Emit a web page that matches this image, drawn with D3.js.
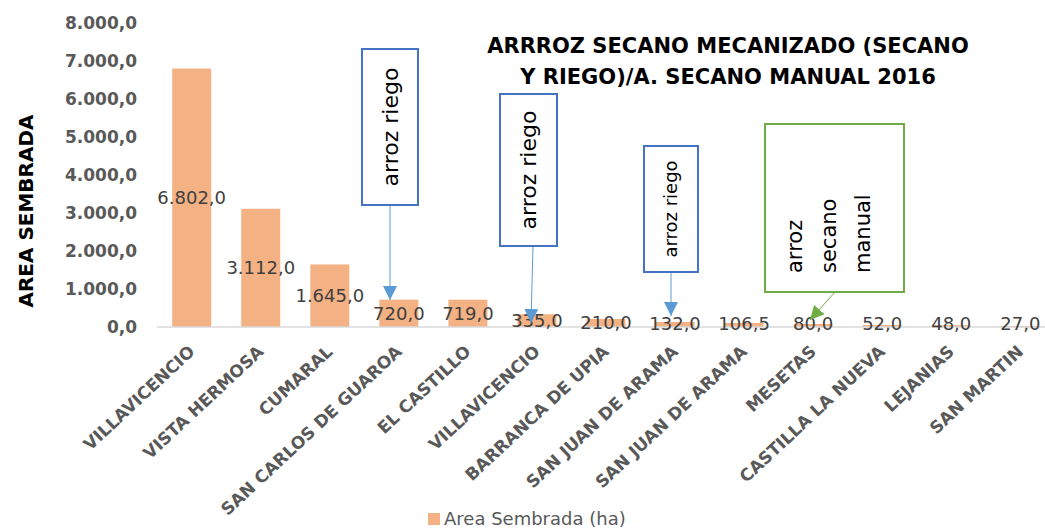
<!DOCTYPE html>
<html>
<head>
<meta charset="utf-8">
<script src="https://cdn.jsdelivr.net/npm/d3@7"></script>
<style>
  body { margin: 0; background: #fff; }
  svg { display: block; font-family: "DejaVu Sans", sans-serif; }
</style>
</head>
<body>
<svg id="chart" width="1045" height="532"></svg>
<script>
// datos del grafico
const categories = ["VILLAVICENCIO", "VISTA HERMOSA", "CUMARAL", "SAN CARLOS DE GUAROA", "EL CASTILLO",
    "VILLAVICENCIO", "BARRANCA DE UPIA", "SAN JUAN DE ARAMA", "SAN JUAN DE ARAMA", "MESETAS",
    "CASTILLA LA NUEVA", "LEJANIAS", "SAN MARTIN"]
const values = [6802, 3112, 1645, 720, 719, 335, 210, 132, 106.5, 80, 52, 48, 27]
const yTicks = [0, 1000, 2000, 3000, 4000, 5000, 6000, 7000, 8000]
const titleLines = ["ARRROZ SECANO MECANIZADO (SECANO", "Y RIEGO)/A. SECANO MANUAL 2016"]
const seriesName = "Area Sembrada (ha)"

const color = { bar: "#F4B183", text: "#595959", label: "#404040", axis: "#D9D9D9",
    blue: "#4472C4", arrow: "#5B9BD5", green: "#70AD47" }

const svg = d3.select("#chart")

const x = d3.scaleBand().domain(d3.range(categories.length)).range([157, 1055]).paddingInner(0.435).paddingOuter(0.22)
const y = d3.scaleLinear().domain([0, 8000]).range([327, 23])

// formato 1.234,5
const fmt = v => d3.format(",.1f")(v).replace(/,/g, "#").replace(".", ",").replace(/#/g, ".")

// eje y
const yAxis = svg.append("g").attr("transform", "translate(145,0)")
    .call(d3.axisLeft(y).tickValues(yTicks).tickFormat(fmt).tickSize(0).tickPadding(8))
yAxis.select(".domain").remove()
yAxis.selectAll("text").attr("font-family", "DejaVu Sans").attr("font-size", 17).attr("font-weight", "bold").attr("fill", color.text)

svg.append("text")
    .attr("transform", "translate(33,211) rotate(-90)")
    .attr("text-anchor", "middle").attr("font-size", 20).attr("font-weight", "bold").attr("fill", "#000")
    .text("AREA SEMBRADA")

// barras
svg.selectAll(".bar").data(values).enter().append("rect")
    .attr("class", "bar")
    .attr("x", (d, i) => x(i)).attr("y", d => y(d))
    .attr("width", x.bandwidth()).attr("height", d => y(0) - y(d))
    .attr("fill", color.bar)

// linea base
svg.append("line").attr("x1", 157).attr("x2", 1045).attr("y1", y(0)).attr("y2", y(0))
    .attr("stroke", color.axis).attr("stroke-width", 1.5)

// etiquetas de datos (centro de la barra)
svg.selectAll(".val").data(values).enter().append("text")
    .attr("class", "val")
    .attr("x", (d, i) => x(i) + x.bandwidth() / 2)
    .attr("y", d => Math.min(y(d / 2), y(0) - 3))
    .attr("dy", "0.35em").attr("text-anchor", "middle")
    .attr("font-size", 18).attr("fill", color.label)
    .text(fmt)

// eje x
svg.selectAll(".cat").data(categories).enter().append("text")
    .attr("class", "cat")
    .attr("transform", (d, i) => `translate(${x(i) + x.bandwidth() / 2 + 4},${y(0) + 26}) rotate(-43)`)
    .attr("text-anchor", "end").attr("font-size", 17).attr("font-weight", "bold").attr("fill", color.text)
    .text(d => d)

// titulo
svg.append("g").selectAll("text").data(titleLines).enter().append("text")
    .attr("x", 728).attr("y", (d, i) => 53 + i * 31)
    .attr("text-anchor", "middle").attr("font-size", 21).attr("font-weight", "bold").attr("fill", "#000")
    .text(d => d)

// leyenda
const legend = svg.append("g").attr("transform", "translate(428,513)")
legend.append("rect").attr("width", 12).attr("height", 12).attr("fill", color.bar)
legend.append("text").attr("x", 16).attr("y", 6).attr("dy", "0.35em")
    .attr("font-size", 18).attr("fill", color.text).text(seriesName)

// anotaciones
const defs = svg.append("defs")
const marker = (id, c) => defs.append("marker").attr("id", id)
    .attr("viewBox", "0 0 10 10").attr("refX", 10).attr("refY", 5)
    .attr("markerWidth", 14).attr("markerHeight", 14).attr("markerUnits", "userSpaceOnUse")
    .attr("orient", "auto")
    .append("path").attr("d", "M0,0L10,5L0,10Z").attr("fill", c)
marker("arrBlue", color.arrow)
marker("arrGreen", color.green)

const notes = [
    { box: [362, 49, 56, 156], lines: ["arroz riego"], size: 22, stroke: color.blue, tip: [390, 300], from: [390, 205], m: "arrBlue", lc: color.arrow },
    { box: [500, 94, 57, 152], lines: ["arroz riego"], size: 22, stroke: color.blue, tip: [531, 323], from: [533, 246], m: "arrBlue", lc: color.arrow },
    { box: [644, 146, 54, 126], lines: ["arroz riego"], size: 18, stroke: color.blue, tip: [671, 316], from: [671, 272], m: "arrBlue", lc: color.arrow },
    { box: [765, 124, 139, 168], lines: ["arroz", "secano", "manual"], size: 21, stroke: color.green, tip: [810, 320], from: [835, 292], m: "arrGreen", lc: color.green }
]

notes.forEach(n => {
    const [bx, by, bw, bh] = n.box
    svg.append("line")
        .attr("x1", n.from[0]).attr("y1", n.from[1]).attr("x2", n.tip[0]).attr("y2", n.tip[1])
        .attr("stroke", n.lc).attr("stroke-width", 1).attr("marker-end", `url(#${n.m})`)
    svg.append("rect").attr("x", bx).attr("y", by).attr("width", bw).attr("height", bh)
        .attr("fill", "#fff").attr("stroke", n.stroke).attr("stroke-width", 2)
    if (n.lines.length === 1) {
        svg.append("text")
            .attr("transform", `translate(${bx + bw / 2},${by + bh / 2}) rotate(-90)`)
            .attr("text-anchor", "middle").attr("dy", "0.35em")
            .attr("font-size", n.size).attr("fill", "#000").text(n.lines[0])
    } else {
        n.lines.forEach((t, i) => {
            svg.append("text")
                .attr("transform", `translate(${bx + 30 + i * 34},${by + 149}) rotate(-90)`)
                .attr("text-anchor", "start").attr("dy", "0.35em")
                .attr("font-size", n.size).attr("fill", "#000").text(t)
        })
    }
})
</script>
</body>
</html>
